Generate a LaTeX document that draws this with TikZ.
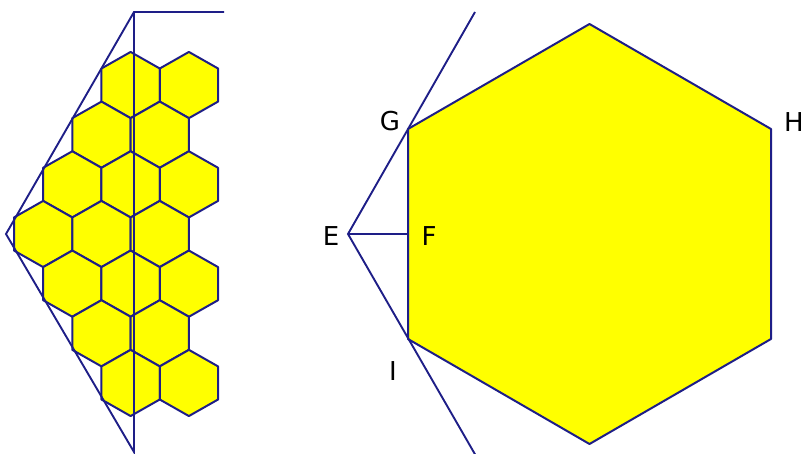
\documentclass[tikz,border=0pt]{standalone}
\usepackage{fontspec}
\setmainfont{DejaVu Sans}
\definecolor{edge}{RGB}{30,30,135}
\definecolor{honey}{RGB}{255,255,0}
\begin{document}
\begin{tikzpicture}[x=1pt,y=-1pt,
  hexcell/.style={draw=edge,fill=honey,line width=2pt,line join=round},
  guide/.style={draw=edge,line width=1.9pt},
  lbl/.style={font=\fontsize{26}{26}\selectfont,text=black,inner sep=0pt}]
\useasboundingbox (0,0) rectangle (804,454);
% small honeycomb
\def\hw{29.15}\def\hs{33.1}
\foreach \cx/\cy in {130.6/85.05,188.9/85.05,
  101.45/134.7,159.75/134.7,
  72.3/184.35,130.6/184.35,188.9/184.35,
  43.15/234,101.45/234,159.75/234,
  72.3/283.65,130.6/283.65,188.9/283.65,
  101.45/333.3,159.75/333.3,
  130.6/382.95,188.9/382.95}{
  \draw[hexcell] (\cx,\cy) ++(0,-\hs) -- ++(\hw,\hs/2) -- ++(0,\hs) -- ++(-\hw,\hs/2)
     -- ++(-\hw,-\hs/2) -- ++(0,-\hs) -- cycle;
}
\coordinate (A) at (6,234);
\coordinate (T) at (134,12);
\coordinate (B) at (134,452);
\coordinate (R) at (224,12);
\draw[guide] (R) -- (T) -- (A) -- (B) -- (T);
% big hexagon
\coordinate (C) at (589.5,234);
\coordinate (G) at (408,129);
\coordinate (H) at (771,129);
\coordinate (I) at (408,339);
\coordinate (F) at (408,234);
\coordinate (E) at (348,234);
\coordinate (P) at (589.5,24);
\coordinate (Q) at (771,339);
\coordinate (S) at (589.5,444);
\draw[hexcell] (P) -- (H) -- (Q) -- (S) -- (I) -- (G) -- cycle;
\coordinate (U) at (475,12);
\coordinate (D) at (476,456);
\draw[guide] (U) -- (E) -- (D);
\draw[guide] (E) -- (F);
\node[lbl] (lG) at (390,121) {G};
\node[lbl] (lH) at (794,122) {H};
\node[lbl] (lE) at (331,236) {E};
\node[lbl] (lF) at (429,236) {F};
\node[lbl] (lI) at (393,371) {I};
\end{tikzpicture}
\end{document}
